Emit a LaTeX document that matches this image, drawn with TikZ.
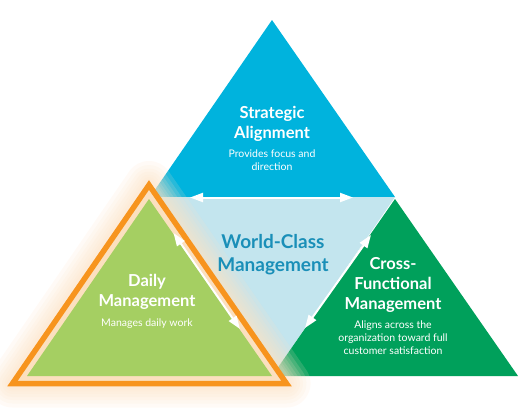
\documentclass[tikz,border=0pt]{standalone}
\usepackage{fontspec}
\setmainfont{Lato}
\usetikzlibrary{arrows.meta}
\definecolor{cblue}{HTML}{00B3DD}
\definecolor{clblue}{HTML}{C3E5EE}
\definecolor{cdgreen}{HTML}{00A05B}
\definecolor{clgreen}{HTML}{A5CF62}
\definecolor{corange}{HTML}{F7941E}
\definecolor{cpeach}{HTML}{FBE0BF}
\definecolor{cteal}{HTML}{1A8FB8}
\definecolor{cglow}{HTML}{FCE3C8}
\tikzset{
  warrow/.style={white, line width=2pt, {Triangle[length=13pt,width=9pt]}-{Triangle[length=13pt,width=9pt]}},
  ttl/.style={text=white, font=\bfseries\fontsize{16.5}{20}\selectfont, align=center, inner sep=0pt},
  sub/.style={text=white, font=\fontsize{10.5}{13}\selectfont, align=center, inner sep=0pt},
  glow/.style={cglow, opacity=0.16, line join=round},
}
\begin{document}
\begin{tikzpicture}[x=1pt,y=-1pt]
\useasboundingbox (0,0) rectangle (528,413);
% triangle corners
\coordinate (BL) at (150,197);
\coordinate (BR) at (395,197);
\coordinate (BT) at (272,20);
\coordinate (MB) at (272,376);
\coordinate (GT) at (395,199);
\coordinate (GR) at (518,376);
\coordinate (LT) at (149,199);
\coordinate (LL) at (27,376);
\coordinate (OT) at (149,185);
\coordinate (OL) at (12.5,383.5);
\coordinate (OR) at (286.5,383.5);
% strategic
\fill[cblue] (BL) -- (BT) -- (BR) -- cycle;
% world-class
\fill[clblue] (BL) -- (BR) -- (MB) -- cycle;
% cross-functional
\fill[cdgreen] (MB) -- (GT) -- (GR) -- cycle;
% glow
\foreach \w in {48,40,33,27,21,16,12} {
  \draw[glow, line width=\w pt] (OL) -- (OT) -- (OR) -- cycle;
}
% daily
\fill[cpeach] (OL) -- (OT) -- (OR) -- cycle;
\fill[clgreen] (LL) -- (LT) -- (MB) -- cycle;
\draw[corange, line width=5.5pt, line join=miter] (OL) -- (OT) -- (OR) -- cycle;
% arrows
\coordinate (h1) at (190,197.5);
\coordinate (h2) at (353,197.5);
\coordinate (l1) at (173.5,233);
\coordinate (l2) at (240,329);
\coordinate (r1) at (371,235);
\coordinate (r2) at (305,328);
\draw[warrow] (h1) -- (h2);
\draw[warrow] (l1) -- (l2);
\draw[warrow] (r1) -- (r2);
% texts
\node[ttl] (st) at (272,124) {Strategic\\Alignment};
\node[sub] (ss) at (272,160) {Provides focus and\\direction};
\node[text=cteal, font=\bfseries\fontsize{19}{23}\selectfont, align=center, inner sep=0pt] (wc) at (273,254.5) {World-Class\\Management};
\node[ttl] (dt) at (147,292) {Daily\\Management};
\node[sub] (ds) at (147,323.5) {Manages daily work};
\node[ttl] (ct) at (393,284.5) {Cross-\\Functional\\Management};
\node[sub] (cs) at (393,338) {Aligns across the\\organization toward full\\customer satisfaction};
\end{tikzpicture}
\end{document}
